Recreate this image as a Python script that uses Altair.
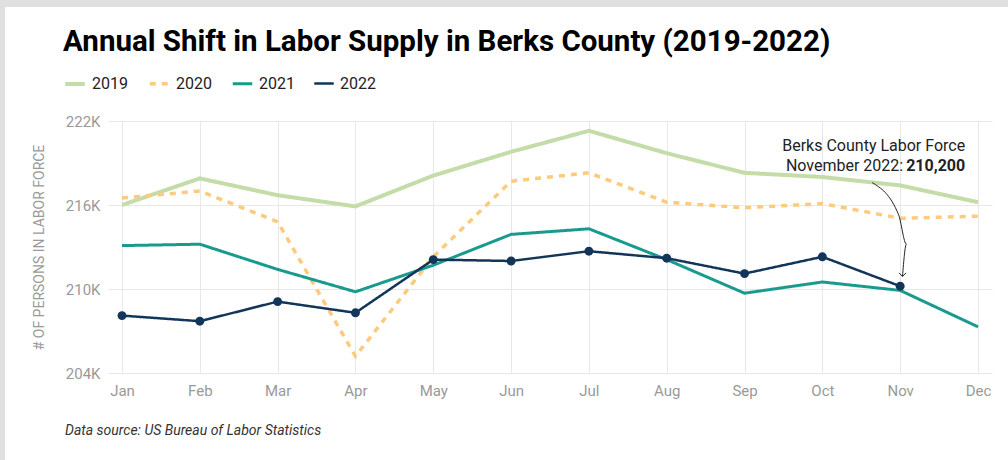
import altair as alt
import pandas as pd

months = ["Jan", "Feb", "Mar", "Apr", "May", "Jun", "Jul", "Aug", "Sep", "Oct", "Nov", "Dec"]
years = ["2019", "2020", "2021", "2022"]
v2019 = [216.0, 217.9, 216.7, 215.9, 218.1, 219.8, 221.3, 219.7, 218.3, 218.0, 217.4, 216.2]
v2020 = [216.5, 217.0, 214.8, 205.2, 212.3, 217.7, 218.3, 216.2, 215.8, 216.1, 215.05, 215.2]
v2021 = [213.1, 213.2, 211.4, 209.8, 211.7, 213.9, 214.3, 212.1, 209.7, 210.5, 209.9, 207.3]
v2022 = [208.1, 207.7, 209.1, 208.3, 212.1, 212.0, 212.7, 212.2, 211.1, 212.3, 210.2, None]
colors = ["#c4dca7", "#fdca7e", "#1a9a8e", "#12365a"]
y_ticks = [204, 210, 216, 222]
title_text = "Annual Shift in Labor Supply in Berks County (2019-2022)"

# annotation arrow path (month index, thousands)
arrow_x = [9.64, 9.98, 10.08, 10.03]
arrow_y = [217.6, 215.3, 213.2, 210.9]

W, H = 884, 252
PAD_L, PAD_T, PAD_R, PAD_B = 108, 121, 16, 87

rows = []
for yr, vals in zip(years, [v2019, v2020, v2021, v2022]):
    for i, v in enumerate(vals):
        if v is not None:
            rows.append({"m": i, "year": yr, "value": v})
df = pd.DataFrame(rows)

month_expr = "[" + ",".join(f"'{m}'" for m in months) + "][datum.value]"

x_enc = alt.X("m:Q", scale=alt.Scale(domain=[-0.18, 11.18], nice=False, zero=False),
              axis=alt.Axis(values=list(range(12)), labelExpr=month_expr, title=None,
                            grid=True, gridColor="#e8e8e8", domain=False, ticks=False,
                            labelColor="#999999", labelFontSize=15, labelPadding=10,
                            labelFont="Roboto"))
y_enc = alt.Y("value:Q", scale=alt.Scale(domain=[204, 222], nice=False, zero=False),
              axis=alt.Axis(values=y_ticks, labelExpr="datum.value + 'K'",
                            title="# OF PERSONS IN LABOR FORCE", titleFontSize=14,
                            titleColor="#9a9a9a", titleFontWeight="normal", titleFont="Roboto",
                            titlePadding=19, grid=True, gridColor="#e8e8e8", domain=False,
                            ticks=False, labelColor="#999999", labelFontSize=15,
                            labelPadding=8, labelFont="Roboto"))

color = alt.Color("year:N", scale=alt.Scale(domain=years, range=colors),
                  legend=alt.Legend(title=None, orient="none", legendX=-45, legendY=-49,
                                    direction="horizontal", symbolType="stroke",
                                    symbolStrokeWidth=4, symbolSize=380,
                                    labelFontSize=16, labelColor="#222222", labelFont="Roboto",
                                    columnPadding=14, labelOffset=5))
dash = alt.StrokeDash("year:N", scale=alt.Scale(domain=years, range=[[1, 0], [6, 6], [1, 0], [1, 0]]),
                      legend=None)
width_enc = alt.StrokeWidth("year:N", scale=alt.Scale(domain=years, range=[4, 2.5, 3.5, 3.5]),
                            legend=None)

strip_left = alt.Chart(alt.Data(values=[{}])).mark_rect(color="#e0e0e0").encode(
    x=alt.value(-PAD_L), x2=alt.value(5 - PAD_L), y=alt.value(-PAD_T), y2=alt.value(H + PAD_B)
)
strip_top = alt.Chart(alt.Data(values=[{}])).mark_rect(color="#e0e0e0").encode(
    x=alt.value(-PAD_L), x2=alt.value(W + PAD_R), y=alt.value(-PAD_T), y2=alt.value(7 - PAD_T)
)

title = alt.Chart(alt.Data(values=[{}])).mark_text(
    text=title_text, font="Roboto", fontSize=29.5, fontWeight="bold", color="#000000",
    align="left", baseline="alphabetic"
).encode(x=alt.value(63 - PAD_L), y=alt.value(51 - PAD_T))

lines = alt.Chart(df).mark_line().encode(
    x=x_enc, y=y_enc, color=color, strokeDash=dash, strokeWidth=width_enc,
    order=alt.Order("m:Q")
)

points = alt.Chart(df).transform_filter("datum.year == '2022'").mark_circle(
    size=80, opacity=1, color="#12365a"
).encode(x="m:Q", y="value:Q")

arrow_df = pd.DataFrame({"ax": arrow_x, "ay": arrow_y, "o": list(range(len(arrow_x)))})
arrow = alt.Chart(arrow_df).mark_line(color="#222222", strokeWidth=1, interpolate="monotone").encode(
    x="ax:Q", y="ay:Q", order="o:Q"
)
head = alt.Chart(arrow_df).transform_filter("datum.o == 3").mark_point(
    shape="M-1,-1L0,0L1,-1", filled=False, stroke="#222222", strokeWidth=1, size=50, opacity=1
).encode(x="ax:Q", y="ay:Q")

ann_font = dict(font="Roboto", fontSize=16, color="#222222", align="right", baseline="middle")
ann1 = alt.Chart(alt.Data(values=[{"m": 10}])).mark_text(
    text="Berks County Labor Force", dx=65, **ann_font
).encode(x="m:Q", y=alt.value(146 - PAD_T))
ann2 = alt.Chart(alt.Data(values=[{"m": 10}])).mark_text(
    text="November 2022:", dx=3, **ann_font
).encode(x="m:Q", y=alt.value(166 - PAD_T))
ann3 = alt.Chart(alt.Data(values=[{"m": 10}])).mark_text(
    text="210,200", dx=65, fontWeight="bold", **ann_font
).encode(x="m:Q", y=alt.value(166 - PAD_T))

footer = alt.Chart(alt.Data(values=[{}])).mark_text(
    text="Data source: US Bureau of Labor Statistics", font="Roboto", fontSize=14,
    fontStyle="italic", color="#333333", align="left", baseline="middle"
).encode(x=alt.value(65 - PAD_L), y=alt.value(431 - PAD_T))

chart = alt.layer(strip_left, strip_top, title, lines, points, arrow, head,
                  ann1, ann2, ann3, footer).properties(
    width=W, height=H,
    padding={"left": PAD_L, "top": PAD_T, "right": PAD_R, "bottom": PAD_B},
    autosize=alt.AutoSizeParams(type="none"),
    background="white",
).configure_view(stroke=None)

chart.save("out.html", embed_options={"renderer": "svg", "actions": False})
